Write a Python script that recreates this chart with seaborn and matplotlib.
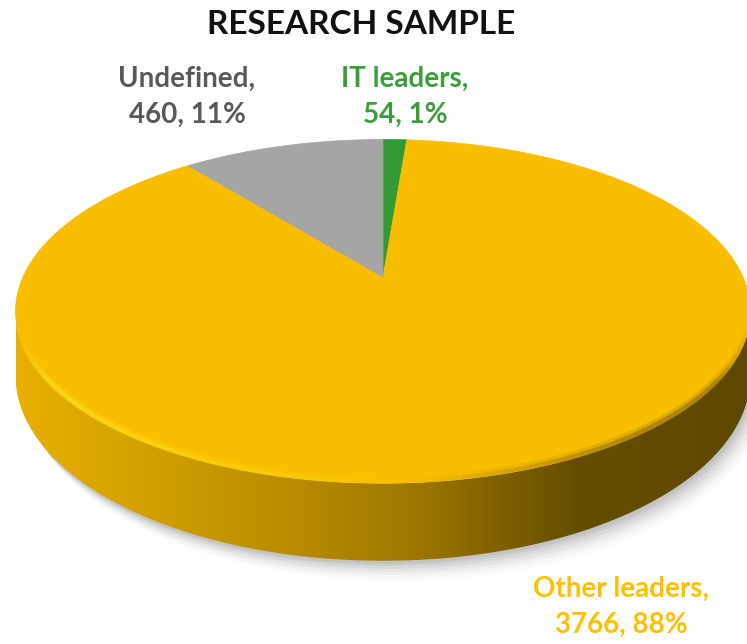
import numpy as np
import matplotlib
matplotlib.use("Agg")
import matplotlib.pyplot as plt
import seaborn as sns
from matplotlib.patches import Polygon
from matplotlib.collections import LineCollection
from matplotlib.colors import LinearSegmentedColormap, to_rgb

# ---- data ----
categories = ["IT leaders", "Other leaders", "Undefined"]
values = [54, 3766, 460]
colors = ["#339933", "#F9BE00", "#A5A5A5"]
label_colors = ["#3A9E3A", "#FFC000", "#595959"]
title = "RESEARCH SAMPLE"

sns.set_theme(style="white")
plt.rcParams["font.family"] = ["Lato", "DejaVu Sans"]

W, H = 747, 644
fig = plt.figure(figsize=(W / 100, H / 100), dpi=100)
ax = fig.add_axes([0, 0, 1, 1])
ax.set_xlim(0, W)
ax.set_ylim(H, 0)
ax.axis("off")

# ---- 3D pie geometry (perspective projection) ----
cx, cy = 383, 277
R, B, k = 360, 165, 0.2
thick = 62


def proj(theta, z=0.0):
    X, Y = np.cos(theta), np.sin(theta)
    s = 1.0 / (1.0 + k * Y)
    return cx + R * X * s, cy - B * Y * s + z * s


total = float(sum(values))
fracs = [v / total for v in values]

# angles: start at 12 o'clock, clockwise
start = np.pi / 2
bounds = [start]
for f in fracs:
    bounds.append(bounds[-1] - 2 * np.pi * f)

# wall (front visible part)
a_left = np.pi + np.arcsin(k)
a_right = 2 * np.pi - np.arcsin(k)
tt = np.linspace(a_left, a_right, 400)
tx, ty = proj(tt)
bx, by = proj(tt, thick)

# shadow
for dx, dy, al in [(2, 3, 0.05), (4, 5, 0.05), (6, 8, 0.045), (8, 11, 0.04),
                   (10, 14, 0.03), (12, 17, 0.02), (14, 20, 0.015)]:
    sx = np.concatenate([tx + dx * 0.3, (bx + dx)[::-1]])
    sy = np.concatenate([ty + dy * 0.3, (by + dy)[::-1]])
    ax.add_patch(Polygon(np.column_stack([sx, sy]), closed=True,
                         facecolor="#000000", edgecolor="none", alpha=al, zorder=1))

wall_xy = np.column_stack([np.concatenate([tx, bx[::-1]]),
                           np.concatenate([ty, by[::-1]])])
wall = Polygon(wall_xy, closed=True, facecolor="none", edgecolor="none", zorder=2)
ax.add_patch(wall)
stops = [(0.0, "#E8B000"), (0.15, "#D6A300"), (0.4, "#B58A00"),
         (0.55, "#9C7600"), (0.66, "#806100"), (0.76, "#664E00"), (1.0, "#5E4700")]
cmap = LinearSegmentedColormap.from_list("wall", stops)
grad = np.linspace(0, 1, 512)[None, :]
xmin, xmax = wall_xy[:, 0].min(), wall_xy[:, 0].max()
ymin, ymax = wall_xy[:, 1].min(), wall_xy[:, 1].max()
im = ax.imshow(grad, cmap=cmap, aspect="auto", extent=[xmin, xmax, ymax, ymin],
               zorder=2, interpolation="bilinear")
im.set_clip_path(wall)

# top slices
for i in range(len(values)):
    a0, a1 = bounds[i], bounds[i + 1]
    th = np.linspace(a0, a1, max(3, int(abs(a1 - a0) * 120)))
    px, py = proj(th)
    poly = np.column_stack([np.concatenate([[cx], px]), np.concatenate([[cy], py])])
    ax.add_patch(Polygon(poly, closed=True, facecolor=colors[i],
                         edgecolor=colors[i], linewidth=0.5, zorder=3))

# rim highlight / shading along the front edge (soft bevel)
rt = np.linspace(a_left + 0.06, a_right - 0.06, 300)
rx, ry = proj(rt)
u = (rx[:-1] - rx.min()) / (rx.max() - rx.min())
for off, lw, amax in [(-3, 6, 0.35), (-2, 3, 0.8)]:
    pts = np.column_stack([rx, ry + off]).reshape(-1, 1, 2)
    segs = np.concatenate([pts[:-1], pts[1:]], axis=1)
    seg_cols = []
    for v in u:
        if v < 0.55:
            c = to_rgb("#FFDA1A")
            a = amax * min(1.0, v / 0.05) * (1 - v / 0.55)
        else:
            c = to_rgb("#8A6800")
            a = min(1.0, (v - 0.55) / 0.3, (1 - v) / 0.05) * amax * 0.7
        seg_cols.append((*c, a))
    ax.add_collection(LineCollection(segs, colors=seg_cols, linewidths=lw, zorder=4,
                                     capstyle="butt"))

# ---- texts ----
ax.text(W / 2 - 12, 24, title, ha="center", va="center", fontsize=24,
        fontweight="bold", color="#111111")
label_pos = [(405, 97), (621, 607), (187, 97)]
for i in range(len(values)):
    pct = round(fracs[i] * 100)
    ax.text(label_pos[i][0], label_pos[i][1],
            f"{categories[i]},\n{values[i]}, {pct}%",
            ha="center", va="center", fontsize=20, fontweight="bold",
            color=label_colors[i], linespacing=1.5)

fig.savefig("out.png", dpi=100)
